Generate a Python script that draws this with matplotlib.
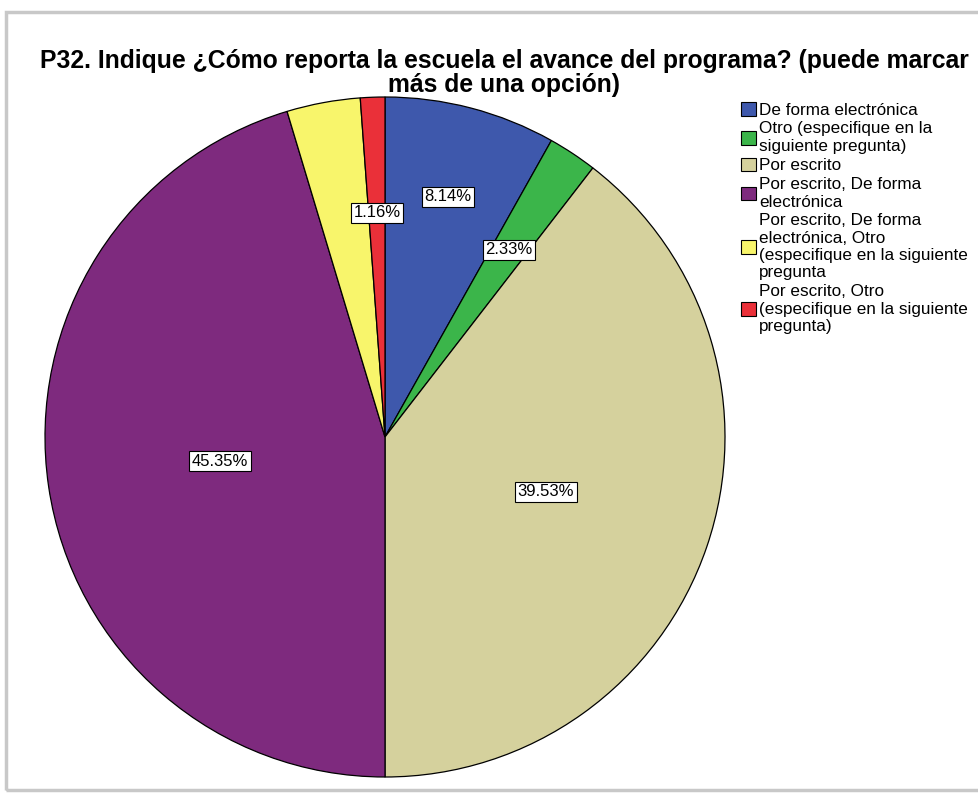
import matplotlib.pyplot as plt
from matplotlib.patches import Patch, Rectangle
import numpy as np

plt.rcParams['font.family'] = ['Liberation Sans', 'DejaVu Sans']

# ---- data ----
categories = [
    'De forma electrónica',
    'Otro (especifique en la\nsiguiente pregunta)',
    'Por escrito',
    'Por escrito, De forma\nelectrónica',
    'Por escrito, De forma\nelectrónica, Otro\n(especifique en la siguiente\npregunta',
    'Por escrito, Otro\n(especifique en la siguiente\npregunta)',
]
percents = [8.14, 2.33, 39.53, 45.35, 3.49, 1.16]
shown_labels = [True, True, True, True, False, True]

# ---- style ----
colors = ['#3E58AC', '#3BB54A', '#D5D19D', '#7E2A7E', '#F8F56B', '#EA3039']
label_dist = [0.73, 0.66, 0.50, 0.49, 0.6, 0.66]
title = 'P32. Indique ¿Cómo reporta la escuela el avance del programa? (puede marcar\nmás de una opción)'

fig = plt.figure(figsize=(9.79, 7.93), dpi=100)
fig.patch.set_facecolor('white')

# light frame around chart
fig.patches.append(Rectangle((6 / 979, 3 / 793), 1.0, 778 / 793, transform=fig.transFigure,
                             fill=False, edgecolor='#c8c8c8', linewidth=2.5))

ax = fig.add_axes([45 / 979, 16 / 793, 680 / 979, 680 / 793])
wedges, _ = ax.pie(percents, colors=colors, startangle=90, counterclock=False,
                   wedgeprops=dict(edgecolor='black', linewidth=0.9))
ax.set_xlim(-1, 1)
ax.set_ylim(-1, 1)
ax.set_aspect('equal')

for w, p, d, show in zip(wedges, percents, label_dist, shown_labels):
    if not show:
        continue
    ang = np.deg2rad((w.theta1 + w.theta2) / 2)
    ax.text(d * np.cos(ang), d * np.sin(ang), f'{p:.2f}%', ha='center', va='center',
            fontsize=12,
            bbox=dict(boxstyle='square,pad=0.15', facecolor='white', edgecolor='black', linewidth=0.8))

fig.text(0.515, 1 - 73 / 793, title, ha='center', va='center', fontsize=17.8,
         fontweight='bold', linespacing=0.95)

handles = [Patch(facecolor=c, edgecolor='black', linewidth=0.8) for c in colors]
fig.legend(handles, categories, loc='upper left', bbox_to_anchor=(741 / 979, 1 - 102 / 793),
           frameon=False, fontsize=12.3, handlelength=0.85, handleheight=0.85,
           handletextpad=0.2, labelspacing=0.22, borderaxespad=0, borderpad=0)
for t in fig.legends[0].get_texts():
    t.set_linespacing(1.2)

fig.savefig('out.png', dpi=100)
